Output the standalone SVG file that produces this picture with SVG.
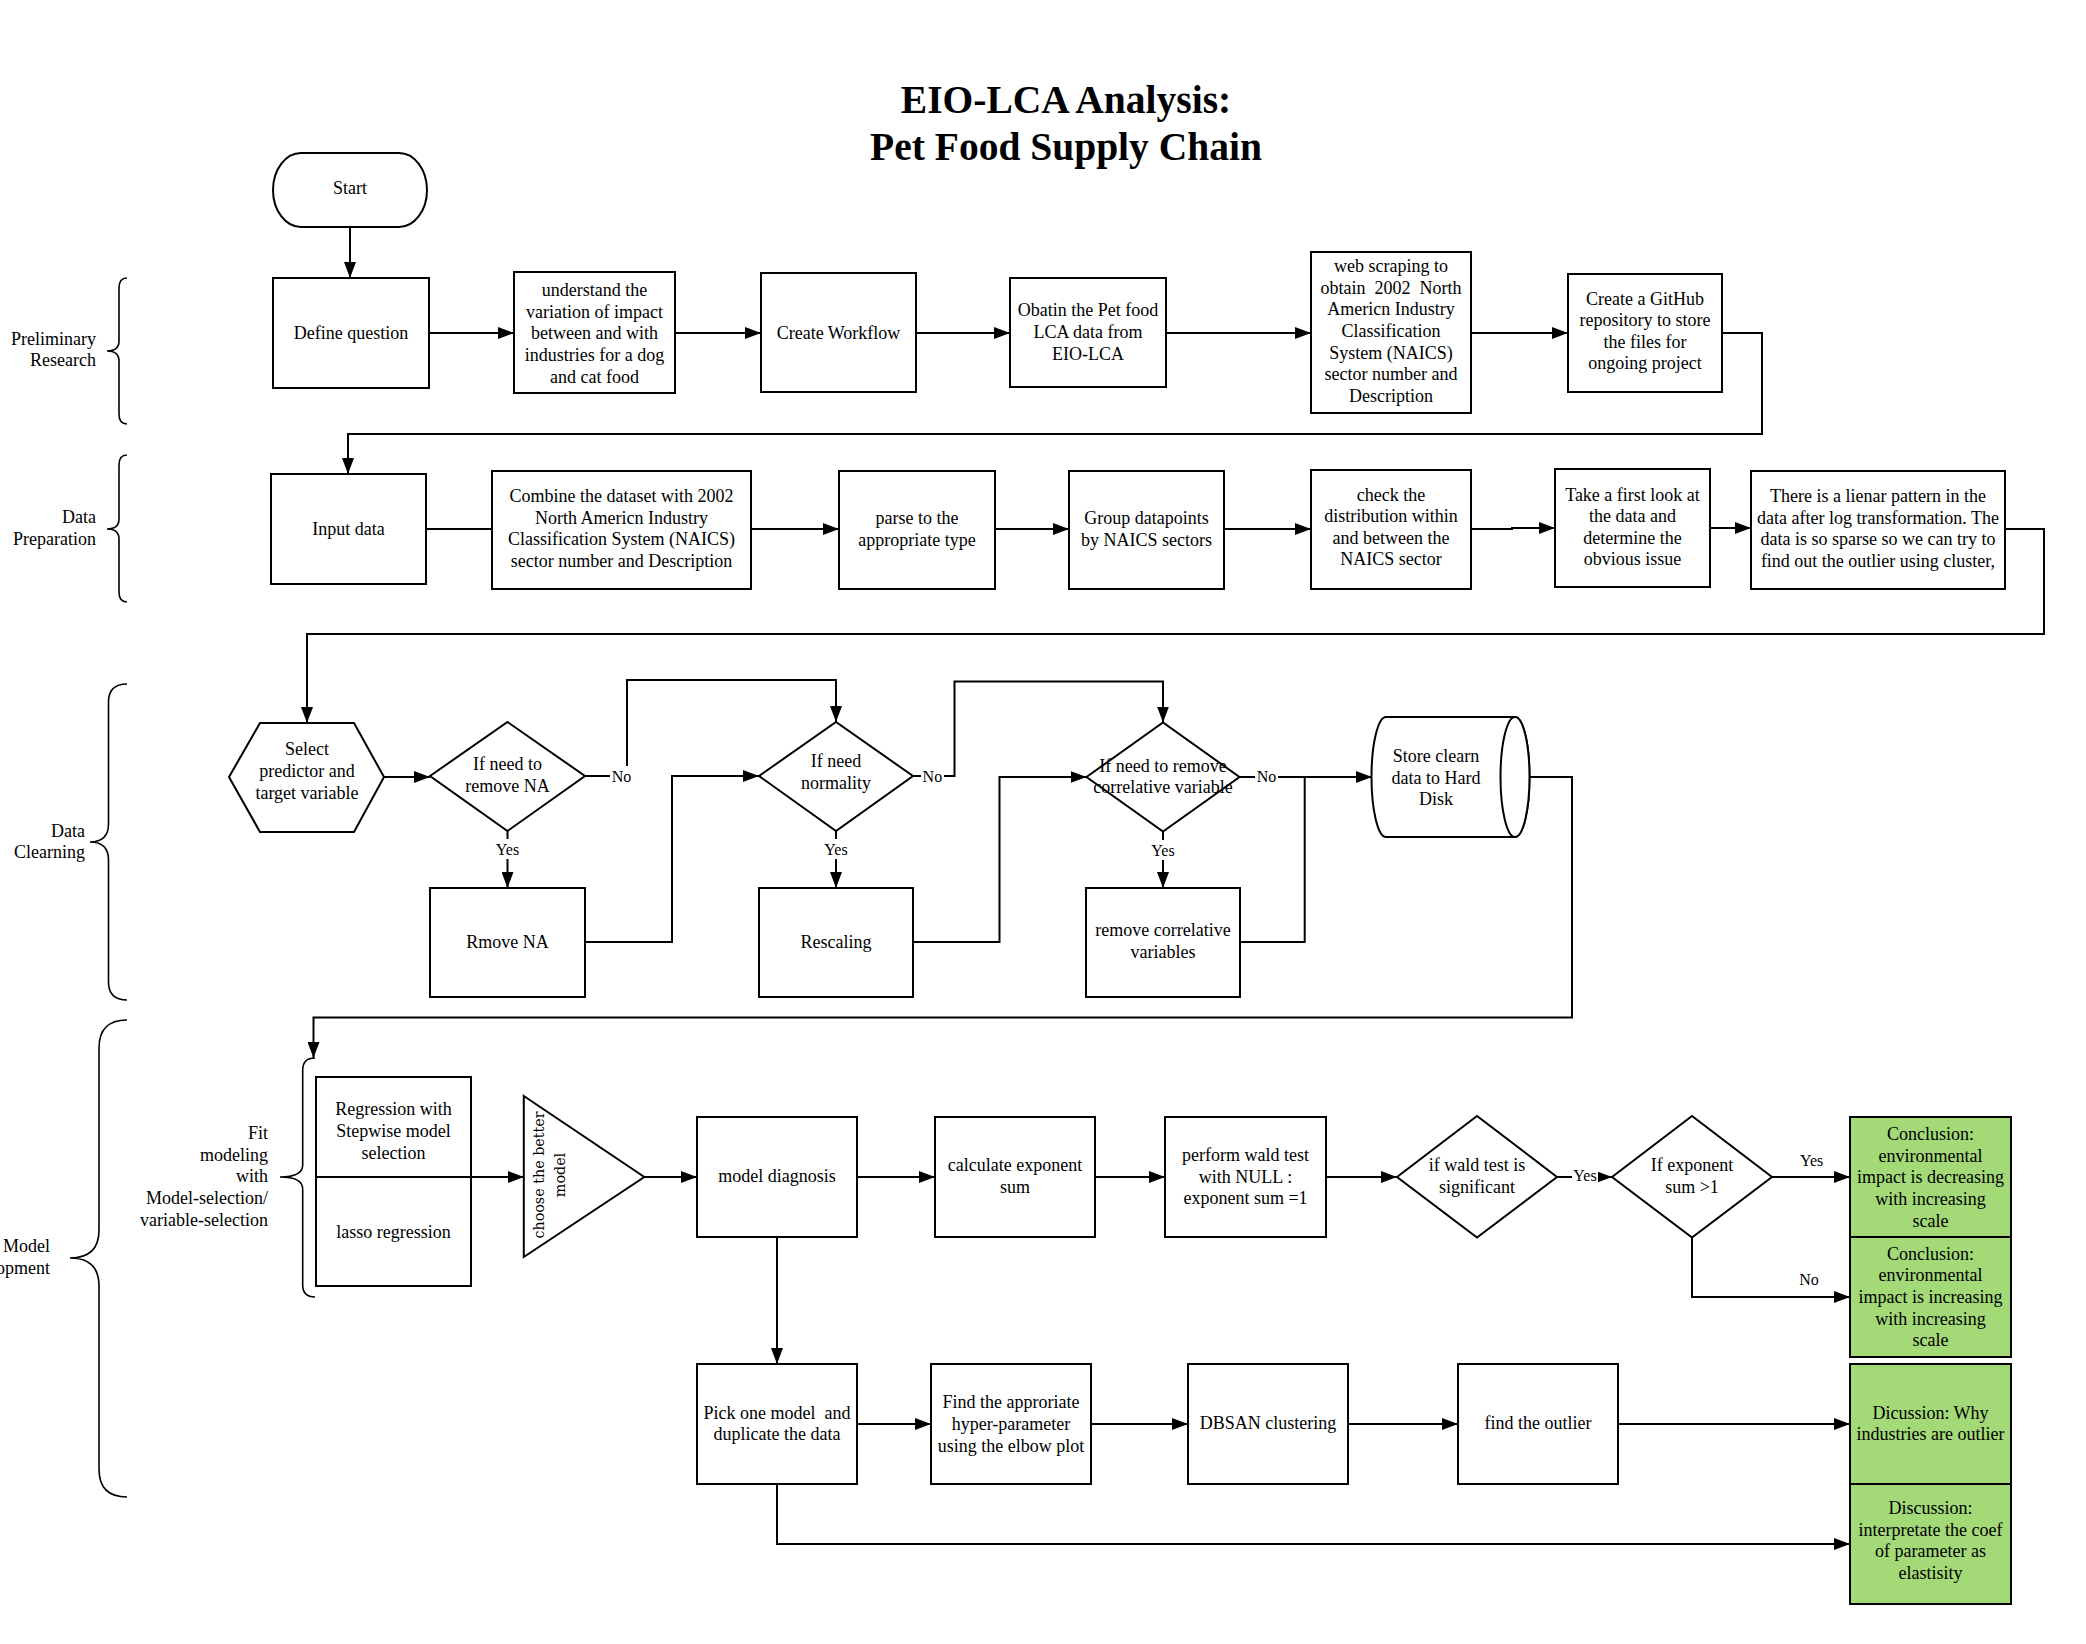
<svg xmlns="http://www.w3.org/2000/svg" width="2086" height="1644" viewBox="0 0 2086 1644">
<style>
.n{fill:#fff;stroke:#000;stroke-width:2}
.g{fill:#a3d977;stroke:#000;stroke-width:2}
.t{font-family:"Liberation Serif","Times New Roman",serif;font-size:18px;text-anchor:middle;fill:#000}
.r{text-anchor:end}
.rot{font-family:"DejaVu Serif","Liberation Serif",serif;font-size:14.3px;text-anchor:middle;fill:#000}
.l{font-family:"Liberation Serif","Times New Roman",serif;font-size:16px;text-anchor:middle;fill:#000}
.c{fill:none;stroke:#000;stroke-width:2}
.a{marker-end:url(#arr)}
.b{fill:none;stroke:#000;stroke-width:1.6}
.bg{fill:#fff;stroke:none}
.title{font-family:"Liberation Serif","Times New Roman",serif;font-size:39.5px;font-weight:bold;text-anchor:middle;fill:#000}
</style>
<defs>
<marker id="arr" markerUnits="userSpaceOnUse" markerWidth="16" markerHeight="12" refX="16" refY="6" orient="auto">
<path d="M0,0 L16,6 L0,12 Z" fill="#000"/>
</marker>
</defs>
<rect width="2086" height="1644" fill="#fff"/>

<g id="title">
<text class="title" x="1066" y="113">EIO-LCA Analysis:</text>
<text class="title" x="1066" y="160">Pet Food Supply Chain</text>
</g>

<g id="section-labels">
<path class="b" d="M127,278 Q119,278 119,288 V341 Q119,351 107,351 Q119,351 119,361 V414 Q119,424 127,424"/>
<text class="t r" x="96" y="344.7">Preliminary</text>
<text class="t r" x="96" y="366.3">Research</text>
<path class="b" d="M127,455 Q119,455 119,465 V519 Q119,529 107,529 Q119,529 119,539 V592 Q119,602 127,602"/>
<text class="t r" x="96" y="523.2">Data</text>
<text class="t r" x="96" y="544.8">Preparation</text>
<path class="b" d="M127,684 Q108.5,684 108.5,702 V824 Q108.5,842 90,842 Q108.5,842 108.5,860 V982 Q108.5,1000 127,1000"/>
<text class="t r" x="85" y="836.7">Data</text>
<text class="t r" x="85" y="858.3">Clearning</text>
<path class="b" d="M127,1020 Q99,1020 99,1048 V1230 Q99,1258 70,1258 Q99,1258 99,1286 V1469 Q99,1497 127,1497"/>
<text class="t r" x="50" y="1252.2">Model</text>
<text class="t r" x="50" y="1273.8">Development</text>
<path class="b" d="M315,1058 Q302.7,1058 302.7,1070 V1165 Q302.7,1177 280,1177 Q302.7,1177 302.7,1189 V1285 Q302.7,1297 315,1297"/>
<text class="t r" x="268"><tspan x="268" y="1139.1">Fit</tspan><tspan x="268" y="1160.7">modeling</tspan><tspan x="268" y="1182.3">with</tspan><tspan x="268" y="1203.9">Model-selection/</tspan><tspan x="268" y="1225.5">variable-selection</tspan></text>
</g>

<g id="connectors">
<path class="c a" d="M350,227 V278"/>
<path class="c a" d="M429,333 H514"/>
<path class="c a" d="M675,333 H761"/>
<path class="c a" d="M916,333 H1010"/>
<path class="c a" d="M1166,333 H1311"/>
<path class="c a" d="M1471,333 H1568"/>
<path class="c a" d="M1722,333 H1762 V434 H348 V474"/>
<path class="c" d="M426,529 H492"/>
<path class="c a" d="M751,529 H839"/>
<path class="c a" d="M995,529 H1069"/>
<path class="c a" d="M1224,529 H1311"/>
<path class="c a" d="M1471,529 H1512 V528 H1555"/>
<path class="c a" d="M1710,528 H1751"/>
<path class="c a" d="M2005,529 H2044 V634 H307 V723"/>
<path class="c a" d="M384,777 H430"/>
<path class="c a" d="M585,776 H627 V680 H836 V722"/>
<path class="c a" d="M507.5,831 V888"/>
<path class="c a" d="M585,942 H672 V776 H759"/>
<path class="c a" d="M913,776 H954.5 V681.5 H1163 V722.5"/>
<path class="c a" d="M836,831 V888"/>
<path class="c a" d="M913,942 H999.5 V777 H1086.5"/>
<path class="c a" d="M1239.5,777 H1372"/>
<path class="c a" d="M1163,831.5 V888"/>
<path class="c" d="M1240,942 H1304.7 V777"/>
<path class="c a" d="M1530,777 H1572 V1017.5 H313.5 V1058"/>
<path class="c a" d="M471.5,1177 H523.8"/>
<path class="c a" d="M644.3,1177 H697"/>
<path class="c a" d="M857,1177 H935"/>
<path class="c a" d="M1095,1177 H1165"/>
<path class="c a" d="M1326,1177 H1397"/>
<path class="c a" d="M1557,1177 H1612"/>
<path class="c a" d="M1772,1177 H1850"/>
<path class="c a" d="M1692,1237.5 V1297 H1850"/>
<path class="c a" d="M777,1237 V1364"/>
<path class="c a" d="M857,1424 H931"/>
<path class="c a" d="M1091,1424 H1188"/>
<path class="c a" d="M1348,1424 H1458"/>
<path class="c a" d="M1618,1424 H1850"/>
<path class="c a" d="M777,1484 V1544 H1850"/>
<rect class="bg" x="610" y="766" width="23" height="20"/>
<text class="l" x="621.5" y="781.5">No</text>
<rect class="bg" x="493" y="839" width="29" height="20"/>
<text class="l" x="507.5" y="854.5">Yes</text>
<rect class="bg" x="921" y="766" width="23" height="20"/>
<text class="l" x="932.4" y="781.5">No</text>
<rect class="bg" x="821.5" y="839" width="29" height="20"/>
<text class="l" x="836" y="854.5">Yes</text>
<rect class="bg" x="1255" y="766" width="23" height="20"/>
<text class="l" x="1266.6" y="781.5">No</text>
<rect class="bg" x="1148.5" y="840" width="29" height="20"/>
<text class="l" x="1163" y="855.5">Yes</text>
<rect class="bg" x="1572" y="1167" width="26" height="19"/>
<text class="l" x="1585" y="1180.5">Yes</text>
<text class="l" x="1811.6" y="1165.5">Yes</text>
<text class="l" x="1809" y="1284.5">No</text>
</g>

<g id="start">
<rect class="n" x="273" y="153" width="154" height="74" rx="28" ry="37"/>
<text class="t" x="350" y="193.7">Start</text>
</g>
<g id="define-question">
<rect class="n" x="273" y="278" width="156" height="110"/>
<text class="t" x="351" y="339">Define question</text>
</g>
<g id="understand">
<rect class="n" x="514" y="272" width="161" height="121"/>
<text class="t"><tspan x="594.5" y="296.2">understand the</tspan><tspan x="594.5" y="317.8">variation of impact</tspan><tspan x="594.5" y="339.4">between and with</tspan><tspan x="594.5" y="361">industries for a dog</tspan><tspan x="594.5" y="382.6">and cat food</tspan></text>
</g>
<g id="create-workflow">
<rect class="n" x="761" y="273" width="155" height="119"/>
<text class="t" x="838.5" y="339">Create Workflow</text>
</g>
<g id="obtain-data">
<rect class="n" x="1010" y="278" width="156" height="109"/>
<text class="t"><tspan x="1088" y="316.4">Obatin the Pet food</tspan><tspan x="1088" y="338">LCA data from</tspan><tspan x="1088" y="359.6">EIO-LCA</tspan></text>
</g>
<g id="web-scraping">
<rect class="n" x="1311" y="252" width="160" height="161"/>
<text class="t" xml:space="preserve"><tspan x="1391" y="272.2">web scraping to</tspan><tspan x="1391" y="293.8">obtain  2002  North</tspan><tspan x="1391" y="315.4">Americn Industry</tspan><tspan x="1391" y="337">Classification</tspan><tspan x="1391" y="358.6">System (NAICS)</tspan><tspan x="1391" y="380.2">sector number and</tspan><tspan x="1391" y="401.8">Description</tspan></text>
</g>
<g id="github">
<rect class="n" x="1568" y="274" width="154" height="118"/>
<text class="t"><tspan x="1645" y="304.6">Create a GitHub</tspan><tspan x="1645" y="326.2">repository to store</tspan><tspan x="1645" y="347.8">the files for</tspan><tspan x="1645" y="369.4">ongoing project</tspan></text>
</g>

<g id="input-data">
<rect class="n" x="271" y="474" width="155" height="110"/>
<text class="t" x="348.5" y="535">Input data</text>
</g>
<g id="combine">
<rect class="n" x="492" y="471" width="259" height="118"/>
<text class="t"><tspan x="621.5" y="501.9">Combine the dataset with 2002</tspan><tspan x="621.5" y="523.5">North Americn Industry</tspan><tspan x="621.5" y="545.1">Classification System (NAICS)</tspan><tspan x="621.5" y="566.7">sector number and Description</tspan></text>
</g>
<g id="parse">
<rect class="n" x="839" y="471" width="156" height="118"/>
<text class="t"><tspan x="917" y="523.9">parse to the</tspan><tspan x="917" y="545.5">appropriate type</tspan></text>
</g>
<g id="group">
<rect class="n" x="1069" y="471" width="155" height="118"/>
<text class="t"><tspan x="1146.5" y="524.2">Group datapoints</tspan><tspan x="1146.5" y="545.8">by NAICS sectors</tspan></text>
</g>
<g id="check-distribution">
<rect class="n" x="1311" y="470" width="160" height="119"/>
<text class="t"><tspan x="1391" y="500.6">check the</tspan><tspan x="1391" y="522.2">distribution within</tspan><tspan x="1391" y="543.8">and between the</tspan><tspan x="1391" y="565.4">NAICS sector</tspan></text>
</g>
<g id="first-look">
<rect class="n" x="1555" y="469" width="155" height="118"/>
<text class="t"><tspan x="1632.5" y="500.6">Take a first look at</tspan><tspan x="1632.5" y="522.2">the data and</tspan><tspan x="1632.5" y="543.8">determine the</tspan><tspan x="1632.5" y="565.4">obvious issue</tspan></text>
</g>
<g id="linear-pattern">
<rect class="n" x="1751" y="471" width="254" height="118"/>
<text class="t"><tspan x="1878" y="502.1">There is a lienar pattern in the</tspan><tspan x="1878" y="523.7">data after log transformation. The</tspan><tspan x="1878" y="545.3">data is so sparse so we can try to</tspan><tspan x="1878" y="566.9">find out the outlier using cluster,</tspan></text>
</g>

<g id="select-variables">
<polygon class="n" points="229,777 260,723 354,723 384,777 354,832 260,832"/>
<text class="t"><tspan x="307" y="755.4">Select</tspan><tspan x="307" y="777">predictor and</tspan><tspan x="307" y="798.6">target variable</tspan></text>
</g>
<g id="if-remove-na">
<polygon class="n" points="430,776 507.5,722 585,776 507.5,831"/>
<text class="t"><tspan x="507.5" y="770.2">If need to</tspan><tspan x="507.5" y="791.8">remove NA</tspan></text>
</g>
<g id="remove-na">
<rect class="n" x="430" y="888" width="155" height="109"/>
<text class="t" x="507.5" y="948">Rmove NA</text>
</g>
<g id="if-normality">
<polygon class="n" points="759,776 836,722 913,776 836,831"/>
<text class="t"><tspan x="836" y="766.8">If need</tspan><tspan x="836" y="789.2">normality</tspan></text>
</g>
<g id="rescaling">
<rect class="n" x="759" y="888" width="154" height="109"/>
<text class="t" x="836" y="948">Rescaling</text>
</g>
<g id="if-correlative">
<polygon class="n" points="1086.5,777 1163,722.5 1239.5,777 1163,831.5"/>
<text class="t"><tspan x="1163" y="771.5">If need to remove</tspan><tspan x="1163" y="793">correlative variable</tspan></text>
</g>
<g id="remove-correlative">
<rect class="n" x="1086" y="888" width="154" height="109"/>
<text class="t"><tspan x="1163" y="936">remove correlative</tspan><tspan x="1163" y="957.6">variables</tspan></text>
</g>
<g id="store-data">
<path class="n" d="M1386,717 H1515 A14.5,60 0 0 1 1515,837 H1386 A14.5,60 0 0 1 1386,717 Z"/>
<ellipse class="n" cx="1515" cy="777" rx="14.5" ry="60"/>
<text class="t"><tspan x="1436" y="762">Store clearn</tspan><tspan x="1436" y="783.6">data to Hard</tspan><tspan x="1436" y="805.2">Disk</tspan></text>
</g>

<g id="regression-stepwise">
<rect class="n" x="316" y="1077" width="155" height="100"/>
<text class="t"><tspan x="393.5" y="1115.4">Regression with</tspan><tspan x="393.5" y="1137">Stepwise model</tspan><tspan x="393.5" y="1158.6">selection</tspan></text>
</g>
<g id="lasso">
<rect class="n" x="316" y="1177" width="155" height="109"/>
<text class="t" x="393.5" y="1237.5">lasso regression</text>
</g>
<g id="choose-model">
<polygon class="n" points="523.8,1096 644.3,1177 523.8,1257"/>
<text class="rot" transform="translate(548.5,1175) rotate(-90)"><tspan x="0" y="-4.5">choose the better</tspan><tspan x="0" y="16.5">model</tspan></text>
</g>
<g id="model-diagnosis">
<rect class="n" x="697" y="1117" width="160" height="120"/>
<text class="t" x="777" y="1182">model diagnosis</text>
</g>
<g id="exponent-sum">
<rect class="n" x="935" y="1117" width="160" height="120"/>
<text class="t"><tspan x="1015" y="1171.2">calculate exponent</tspan><tspan x="1015" y="1192.8">sum</tspan></text>
</g>
<g id="wald-test">
<rect class="n" x="1165" y="1117" width="161" height="120"/>
<text class="t"><tspan x="1245.5" y="1160.9">perform wald test</tspan><tspan x="1245.5" y="1182.5">with NULL :</tspan><tspan x="1245.5" y="1204.1">exponent sum =1</tspan></text>
</g>
<g id="if-significant">
<polygon class="n" points="1397,1177 1477,1116 1557,1177 1477,1237.5"/>
<text class="t"><tspan x="1477" y="1171.2">if wald test is</tspan><tspan x="1477" y="1192.8">significant</tspan></text>
</g>
<g id="if-exponent">
<polygon class="n" points="1612,1177 1692,1116 1772,1177 1692,1237.5"/>
<text class="t"><tspan x="1692" y="1171.2">If exponent</tspan><tspan x="1692" y="1192.8">sum &gt;1</tspan></text>
</g>
<g id="conclusion-decreasing">
<rect class="g" x="1850" y="1117" width="161" height="120"/>
<text class="t"><tspan x="1930.5" y="1140.1">Conclusion:</tspan><tspan x="1930.5" y="1161.7">environmental</tspan><tspan x="1930.5" y="1183.3">impact is decreasing</tspan><tspan x="1930.5" y="1204.9">with increasing</tspan><tspan x="1930.5" y="1226.5">scale</tspan></text>
</g>
<g id="conclusion-increasing">
<rect class="g" x="1850" y="1237" width="161" height="120"/>
<text class="t"><tspan x="1930.5" y="1259.8">Conclusion:</tspan><tspan x="1930.5" y="1281.4">environmental</tspan><tspan x="1930.5" y="1303">impact is increasing</tspan><tspan x="1930.5" y="1324.6">with increasing</tspan><tspan x="1930.5" y="1346.2">scale</tspan></text>
</g>
<g id="pick-model">
<rect class="n" x="697" y="1364" width="160" height="120"/>
<text class="t" xml:space="preserve"><tspan x="777" y="1418.6">Pick one model  and</tspan><tspan x="777" y="1440.2">duplicate the data</tspan></text>
</g>
<g id="hyper-parameter">
<rect class="n" x="931" y="1364" width="160" height="120"/>
<text class="t"><tspan x="1011" y="1408.4">Find the approriate</tspan><tspan x="1011" y="1430">hyper-parameter</tspan><tspan x="1011" y="1451.6">using the elbow plot</tspan></text>
</g>
<g id="dbscan">
<rect class="n" x="1188" y="1364" width="160" height="120"/>
<text class="t" x="1268" y="1429">DBSAN clustering</text>
</g>
<g id="find-outlier">
<rect class="n" x="1458" y="1364" width="160" height="120"/>
<text class="t" x="1538" y="1429">find the outlier</text>
</g>
<g id="discussion-outlier">
<rect class="g" x="1850" y="1364" width="161" height="120"/>
<text class="t"><tspan x="1930.5" y="1418.6">Dicussion: Why</tspan><tspan x="1930.5" y="1440.2">industries are outlier</tspan></text>
</g>
<g id="discussion-coef">
<rect class="g" x="1850" y="1484" width="161" height="120"/>
<text class="t"><tspan x="1930.5" y="1514.1">Discussion:</tspan><tspan x="1930.5" y="1535.7">interpretate the coef</tspan><tspan x="1930.5" y="1557.3">of parameter as</tspan><tspan x="1930.5" y="1578.9">elastisity</tspan></text>
</g>
</svg>
